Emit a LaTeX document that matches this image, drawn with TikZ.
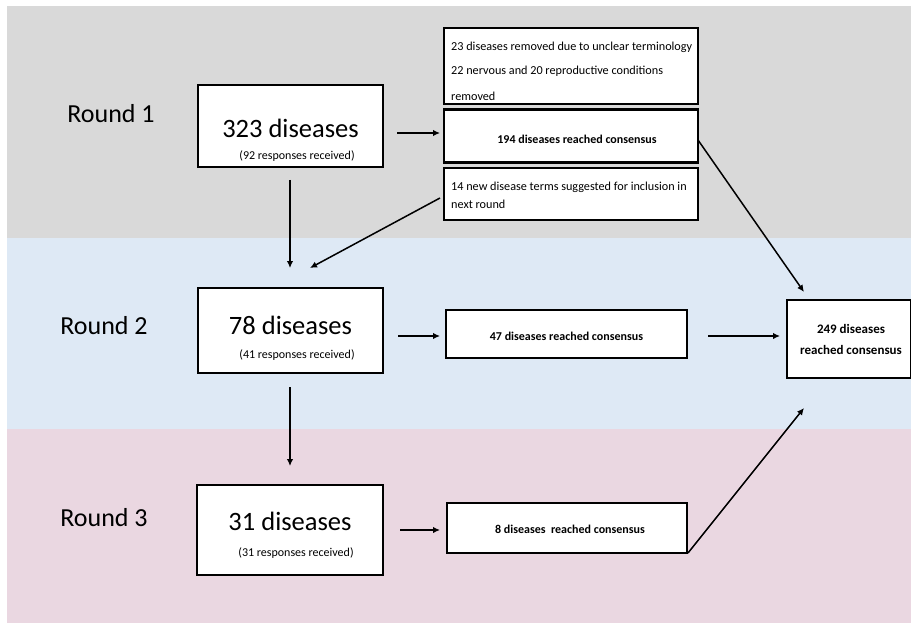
\documentclass[tikz,border=0pt]{standalone}
\usepackage{fontspec}
\setmainfont{Carlito}
\usetikzlibrary{arrows.meta}
\definecolor{bandgray}{HTML}{D9D9D9}
\definecolor{bandblue}{HTML}{DEE9F5}
\definecolor{bandpink}{HTML}{EAD7E1}
\begin{document}
\begin{tikzpicture}[x=1pt,y=-1pt,
  box/.style={draw=black,line width=2.2pt,fill=white,rectangle,inner sep=0pt},
  small/.style={inner sep=0pt,font=\fontsize{12}{14}\selectfont},
  txt/.style={inner sep=0pt,anchor=west,font=\fontsize{12.2}{14}\selectfont},
  arr/.style={line width=1.5pt,-{Latex[length=7pt,width=6.5pt]}},
  rnd/.style={inner sep=0pt,font=\fontsize{26}{30}\selectfont},
  big/.style={inner sep=0pt,font=\fontsize{26.5}{30}\selectfont},
  bold/.style={inner sep=0pt,font=\bfseries\fontsize{12}{14}\selectfont}]
\useasboundingbox (0,0) rectangle (911,623);
\fill[white] (0,0) rectangle (911,623);
\fill[bandgray] (7,6) rectangle (911,238);
\fill[bandblue] (7,238) rectangle (911,429);
\fill[bandpink] (7,429) rectangle (911,623);
% round labels
\node[rnd] (r1) at (111,114) {Round 1};
\node[rnd] (r2) at (104,326) {Round 2};
\node[rnd] (r3) at (104,518) {Round 3};
% left boxes
\node[box,minimum width=185pt,minimum height=82pt] (b323) at (290.5,126) {};
\node[big] (t323) at (290.5,128) {323 diseases};
\node[small] (s323) at (297,156) {(92 responses received)};
\node[box,minimum width=185pt,minimum height=85pt] (b78) at (290.5,330.5) {};
\node[big] (t78) at (290.5,325) {78 diseases};
\node[small] (s78) at (297,355) {(41 responses received)};
\node[box,minimum width=186pt,minimum height=90pt] (b31) at (290,530) {};
\node[big] (t31) at (290,521) {31 diseases};
\node[small] (s31) at (296,553) {(31 responses received)};
% right boxes round 1
\node[box,minimum width=254pt,minimum height=76pt] (brem) at (571,66) {};
\node[txt] (l1) at (451,47) {23 diseases removed due to unclear terminology};
\node[txt] (l2) at (451,71) {22 nervous and 20 reproductive conditions};
\node[txt] (l3) at (451,96) {removed};
\node[box,minimum width=254pt,minimum height=53pt] (b194) at (571,136) {};
\node[bold] (t194) at (577,139) {194 diseases reached consensus};
\node[box,minimum width=254pt,minimum height=52pt] (b14) at (571,194) {};
\node[txt] (l4) at (451,187) {14 new disease terms suggested for inclusion in};
\node[txt] (l5) at (451,204) {next round};
% round 2,3 consensus
\node[box,minimum width=241pt,minimum height=48pt] (b47) at (566.5,334) {};
\node[bold] (t47) at (566.5,336) {47 diseases reached consensus};
\node[box,minimum width=240pt,minimum height=50pt] (b8) at (567,528) {};
\node[bold] (t8) at (570,529) {8 diseases\ \ reached consensus};
% total
\node[box,minimum width=124pt,minimum height=78pt] (b249) at (849,339) {};
\node[inner sep=0pt,align=center,font=\bfseries\fontsize{13}{21}\selectfont] (t249) at (851,339) {249 diseases\\reached consensus};
% connectors
\coordinate (a1s) at (397,133); \coordinate (a1e) at (440,133);
\draw[arr] (a1s) -- (a1e);
\coordinate (d1s) at (290,180); \coordinate (d1e) at (290,268);
\draw[arr] (d1s) -- (d1e);
\coordinate (n14) at (440,198); \coordinate (n14e) at (310,268);
\draw[arr] (n14) -- (n14e);
\coordinate (c194) at (698,140); \coordinate (c194e) at (804,292);
\draw[arr] (c194) -- (c194e);
\coordinate (a2s) at (398,336); \coordinate (a2e) at (440,336);
\draw[arr] (a2s) -- (a2e);
\coordinate (a47s) at (708,336); \coordinate (a47e) at (780,336);
\draw[arr] (a47s) -- (a47e);
\coordinate (d2s) at (290,387); \coordinate (d2e) at (290,466);
\draw[arr] (d2s) -- (d2e);
\coordinate (a3s) at (400,530); \coordinate (a3e) at (440,530);
\draw[arr] (a3s) -- (a3e);
\coordinate (c8) at (688,553); \coordinate (c8e) at (804,408);
\draw[arr] (c8) -- (c8e);
\end{tikzpicture}
\end{document}
